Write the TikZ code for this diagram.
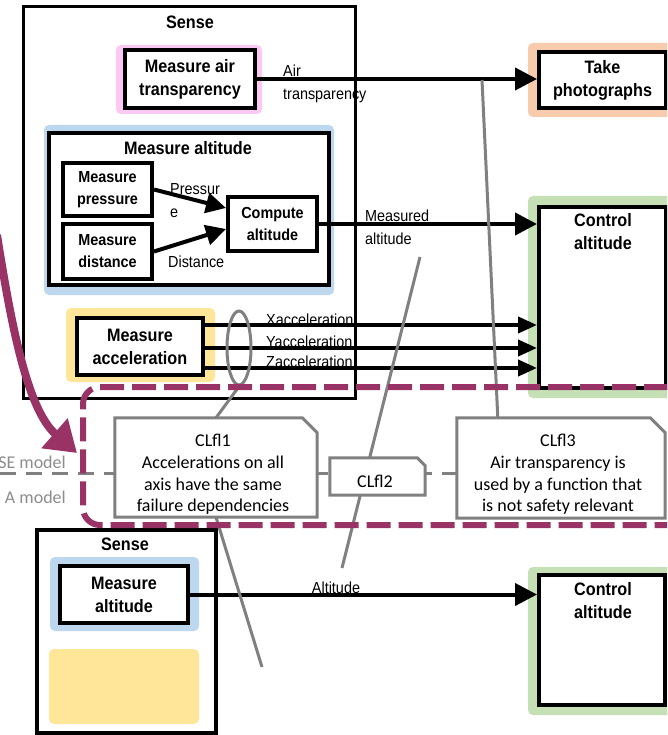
\documentclass[tikz,border=0pt]{standalone}
\usepackage{fontspec}
\setmainfont{Liberation Sans}[FakeStretch=0.9]
\newfontfamily\notefont{Carlito}
\usetikzlibrary{arrows.meta,shapes.geometric}
\definecolor{hlpink}{HTML}{FBC9F3}
\definecolor{hlblue}{HTML}{BDD7EE}
\definecolor{hlyellow}{HTML}{FFE699}
\definecolor{hlorange}{HTML}{F8CBAD}
\definecolor{hlgreen}{HTML}{C5E0B4}
\definecolor{linkgray}{HTML}{808080}
\definecolor{modelgray}{HTML}{8C8C8C}
\definecolor{plum}{HTML}{993366}
\begin{document}
\begin{tikzpicture}[x=1pt,y=-1pt,
  hl/.style={rounded corners=5pt},
  fbox/.style={draw, line width=4pt, fill=white, inner sep=0pt, align=center,
    font=\bfseries\fontsize{18}{23}\selectfont},
  subbox/.style={fbox, font=\bfseries\fontsize{16}{22}\selectfont},
  frame/.style={draw, line width=3pt, fill=white, inner sep=0pt},
  title/.style={inner sep=0pt, align=center, font=\bfseries\fontsize{18}{23}\selectfont},
  flowlabel/.style={inner sep=0pt, align=left, anchor=west, font=\fontsize{16}{23}\selectfont},
  flow/.style={line width=4pt, -{Triangle[length=22pt,width=22pt]}},
  subflow/.style={line width=4pt, -{Triangle[length=20pt,width=20pt]}},
  accflow/.style={line width=4pt, -{Triangle[length=19pt,width=16pt]}},
  link/.style={draw=linkgray, line width=3pt},
  notebox/.style={inner sep=0pt},
  noteshape/.style={draw=linkgray, fill=white, line width=3pt, line join=miter},
  notetext/.style={inner sep=0pt, align=center, font=\notefont\fontsize{18}{21.7}\selectfont},
  modellabel/.style={inner sep=0pt, anchor=east, text=modelgray, font=\notefont\fontsize{18}{20}\selectfont},
  region/.style={draw=plum, line width=6pt, dash pattern=on 24pt off 8pt, rounded corners=17pt},
]
\useasboundingbox (0,0) rectangle (667,735);
\clip (0,0) rectangle (667,735);

% boundary between the two models
\draw[linkgray, line width=3pt, dash pattern=on 16pt off 10pt] (0,473) -- (667,473);
\node[modellabel] (semodel) at (66,462) {SE model};
\node[modellabel] (amodel) at (66,497) {A model};

% ---------- upper functional architecture ----------
\node[frame, minimum width=332pt, minimum height=391pt] (senseA) at (189,202.5) {};
\node[title] (senseAt) at (190,22) {Sense};

\fill[hlpink, hl] (116,45) rectangle (262,114);
\node[fbox, minimum width=130pt, minimum height=58pt] (air) at (190,79) {Measure air\\transparency};

\fill[hlblue, hl] (44,125) rectangle (334,295);
\node[frame, line width=4pt, minimum width=280pt, minimum height=152pt] (alt) at (189,209) {};
\node[title] (altt) at (188,148) {Measure altitude};
\node[subbox, minimum width=89pt, minimum height=53pt] (press) at (107.5,189.5) {Measure\\pressure};
\node[subbox, minimum width=89pt, minimum height=55pt] (dist) at (107.5,251.5) {Measure\\distance};
\node[subbox, minimum width=89pt, minimum height=54pt] (comp) at (272.5,224) {Compute\\altitude};

\fill[hlyellow, hl] (66,308) rectangle (215,382);
\node[fbox, minimum width=126pt, minimum height=57pt] (acc) at (140,346.5) {Measure\\acceleration};

\fill[hlorange, hl] (528,43) rectangle (700,117);
\node[fbox, minimum width=127pt, minimum height=56pt] (photo) at (602.5,80) {Take\\photographs};

\fill[hlgreen, hl] (528,196) rectangle (700,398);
\node[fbox, minimum width=127pt, minimum height=181pt] (ctrlA) at (602.5,297.5) {};
\node[title] (ctrlAt) at (603,231.5) {Control\\altitude};

% flows inside and out of Sense
\node[flowlabel] (lpress) at (170,201) {Pressur\\e};
\node[flowlabel] (ldist) at (168,262) {Distance};
\draw[subflow] (press.east) -- ([yshift=16pt]comp.west);
\draw[subflow] (dist.east) -- ([yshift=-5pt]comp.west);

\node[flowlabel] (lair) at (283,84) {Air\\transparency};
\draw[flow] (air.east) -- (air.east -| photo.west);

\node[flowlabel] (lmeas) at (365,227) {Measured\\altitude};
\draw[flow] (comp.east) -- (comp.east -| ctrlA.west);

\node[flowlabel] (lx) at (266,320) {Xacceleration};
\node[flowlabel] (ly) at (266,342) {Yacceleration};
\node[flowlabel] (lz) at (266,362) {Zacceleration};
\draw[accflow] (acc.east |- 0,325) -- (ctrlA.west |- 0,325);
\draw[accflow] (acc.east |- 0,348) -- (ctrlA.west |- 0,348);
\draw[accflow] (acc.east |- 0,368) -- (ctrlA.west |- 0,368);

\node[draw=linkgray, line width=3pt, ellipse, inner sep=0pt,
      minimum width=24pt, minimum height=74pt] (grp) at (239,348) {};

% ---------- lower functional architecture ----------
\node[frame, line width=3.5pt, minimum width=179pt, minimum height=203pt] (senseB) at (126.5,631.5) {};
\node[title] (senseBt) at (125,544) {Sense};
\fill[hlblue, hl] (50,557) rectangle (199,631);
\node[fbox, minimum width=128pt, minimum height=57pt] (altB) at (124,594.5) {Measure\\altitude};
\fill[hlyellow, hl] (49,649) rectangle (199,724);

\fill[hlgreen, hl] (528,567) rectangle (700,715);
\node[fbox, minimum width=126pt, minimum height=130pt] (ctrlB) at (602,640) {};
\node[title] (ctrlBt) at (603,601) {Control\\altitude};

\node[flowlabel, anchor=center] (lalt) at (336,588) {Altitude};
\draw[flow] (altB.east) -- (altB.east -| ctrlB.west);

% ---------- failure-logic notes and their links ----------
\node[notebox, minimum width=202pt, minimum height=99pt] (c1) at (216,467.5) {};
\node[notebox, minimum width=95pt, minimum height=37pt] (c2) at (377.5,476.5) {};
\node[notebox, minimum width=208pt, minimum height=100pt] (c3) at (561,468) {};

\coordinate (g2end) at (262,667);
\coordinate (g3a) at (420,257);
\coordinate (g3b) at (342,568);
\coordinate (g4a) at (482,80);

\draw[link] (grp.south) -- (c1.north);
\draw[link] (c1.south) -- (g2end);
\draw[link] (g3a) -- (g3b);
\draw[link] (g4a) -- ([xshift=41pt]c3.north west);

\filldraw[noteshape] (c1.south west) -- (c1.north west) -- ([xshift=-15pt]c1.north east)
  -- ([yshift=-15pt]c1.north east) -- (c1.south east) -- cycle;
\filldraw[noteshape] (c2.south west) -- (c2.north west) -- ([xshift=-8pt]c2.north east)
  -- ([yshift=-8pt]c2.north east) -- (c2.south east) -- cycle;
\filldraw[noteshape] (c3.south west) -- (c3.north west) -- ([xshift=-15pt]c3.north east)
  -- ([yshift=-15pt]c3.north east) -- (c3.south east) -- cycle;

\node[notetext] (t1) at (213,474.5) {CLfl1\\Accelerations on all\\axis have the same\\failure dependencies};
\node[notetext] (t2) at (375,481) {CLfl2};
\node[notetext] (t3) at (558,474.5) {CLfl3\\Air transparency is\\used by a function that\\is not safety relevant};

% ---------- analysed region and its pointer ----------
\draw[region] (700,387) -- (83,387) -- (83,525) -- (700,525);
\coordinate (pstart) at (-3,235);
\coordinate (ptip) at (77,453);
\draw[plum, line width=8pt, -{Triangle[length=30pt,width=38pt]}]
  (pstart) .. controls (12,330) and (28,410) .. (ptip);
\end{tikzpicture}
\end{document}
